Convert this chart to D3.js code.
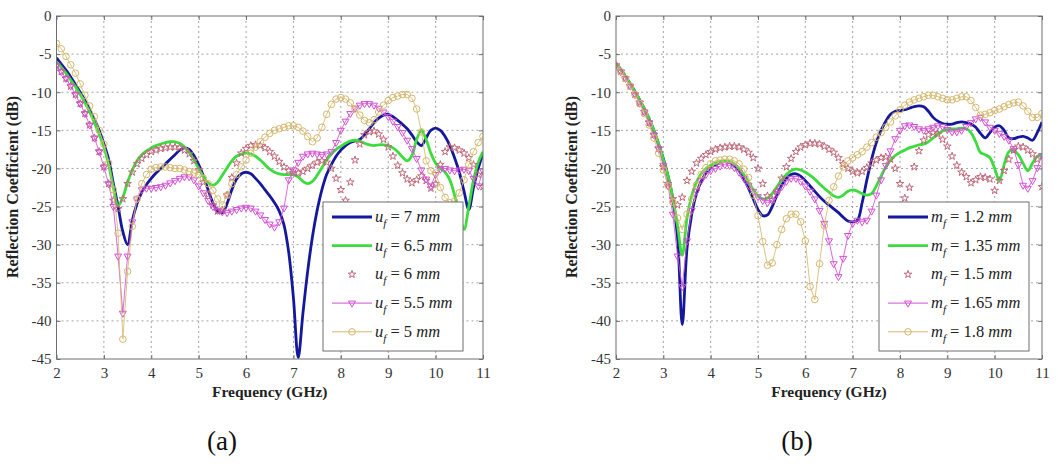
<!DOCTYPE html>
<html>
<head>
<meta charset="utf-8">
<script src="https://cdn.jsdelivr.net/npm/d3@7"></script>
<style>
  body { margin: 0; background: #fff; }
  svg { display: block; }
  svg text { font-family: "Liberation Serif", "DejaVu Serif", serif; }
</style>
</head>
<body>
<svg id="fig" width="1058" height="470"></svg>
<script>
// Frequency sweep: 2 GHz to 11 GHz, 0.1 GHz step (91 samples per trace)
const FREQ = d3.range(91).map(i => +(2 + i * 0.1).toFixed(1));

const X_TICKS = [2, 3, 4, 5, 6, 7, 8, 9, 10, 11];
const Y_TICKS = [0, -5, -10, -15, -20, -25, -30, -35, -40, -45];

// (a) feed width u_f sweep, reflection coefficient in dB
const UF_LABELS = ["7", "6.5", "6", "5.5", "5"];
const S_UF_7 = [
  -5.5,-6.3,-7.1,-8.0,-9.0,-10.0,-11.1,-12.3,-13.6,-15.0,
  -16.8,-18.8,-22.0,-25.0,-28.3,-30.0,-26.8,-24.6,-23.1,-22.1,
  -21.3,-20.6,-20.0,-19.4,-18.8,-18.2,-17.6,-17.3,-17.5,-18.3,
  -19.5,-21.0,-22.8,-24.5,-25.6,-25.8,-24.6,-22.8,-21.4,-20.7,
  -20.5,-20.7,-21.3,-22.0,-22.8,-23.6,-24.5,-25.6,-27.4,-31.0,
  -37.0,-44.8,-39.0,-33.5,-29.0,-25.5,-22.8,-20.8,-19.5,-18.4,
  -17.6,-17.0,-16.6,-16.4,-16.2,-15.6,-14.8,-14.0,-13.4,-13.0,
  -12.9,-13.2,-13.7,-14.2,-14.8,-15.6,-16.5,-17.0,-16.0,-15.0,
  -14.7,-15.0,-15.8,-17.0,-18.6,-20.5,-23.0,-25.4,-22.5,-20.0,
  -18.0];
const S_UF_65 = [
  -6.0,-6.7,-7.5,-8.4,-9.3,-10.3,-11.4,-12.6,-14.0,-15.5,
  -17.2,-19.5,-22.5,-24.9,-23.8,-21.8,-20.2,-19.0,-18.2,-17.7,
  -17.3,-17.0,-16.8,-16.6,-16.5,-16.5,-16.7,-17.2,-17.9,-18.9,
  -20.0,-21.1,-21.9,-22.2,-21.8,-20.9,-19.9,-19.0,-18.4,-18.1,
  -18.0,-18.1,-18.4,-18.9,-19.5,-20.1,-20.5,-20.7,-20.8,-20.8,
  -20.8,-21.1,-21.7,-22.0,-21.7,-20.9,-19.9,-18.9,-18.1,-17.5,
  -17.1,-16.7,-16.4,-16.3,-16.4,-16.7,-16.9,-17.0,-16.9,-16.9,
  -17.0,-17.3,-17.8,-18.5,-19.0,-18.3,-16.2,-15.0,-16.2,-18.0,
  -19.3,-20.0,-20.5,-21.5,-23.5,-26.0,-28.0,-25.0,-21.5,-19.2,
  -17.8];
const S_UF_6 = [
  -6.5,-7.3,-8.2,-9.2,-10.3,-11.5,-12.8,-14.3,-16.0,-17.8,
  -19.8,-22.0,-24.2,-25.3,-24.0,-22.0,-20.5,-19.4,-18.7,-18.2,
  -17.8,-17.6,-17.4,-17.3,-17.2,-17.2,-17.3,-17.6,-18.1,-19.0,
  -20.2,-21.8,-23.4,-24.8,-25.6,-25.5,-23.5,-21.2,-19.3,-18.0,
  -17.4,-17.0,-16.9,-17.0,-17.3,-17.8,-18.4,-19.1,-19.8,-20.3,
  -20.6,-20.6,-20.4,-20.0,-19.6,-19.2,-19.0,-19.2,-20.0,-21.3,
  -22.8,-24.2,-21.8,-18.9,-16.8,-15.6,-15.2,-15.1,-15.5,-16.2,
  -17.2,-18.4,-19.6,-20.6,-21.4,-21.9,-21.5,-21.0,-21.6,-22.6,
  -22.0,-19.5,-17.8,-17.2,-17.3,-17.6,-18.0,-18.6,-19.5,-20.8,
  -22.4];
const S_UF_55 = [
  -6.5,-7.3,-8.2,-9.2,-10.3,-11.5,-12.8,-14.3,-16.0,-17.8,
  -19.8,-22.0,-25.0,-31.5,-39.0,-31.5,-27.0,-24.0,-22.8,-22.6,
  -22.6,-22.5,-22.4,-22.2,-21.9,-21.6,-21.3,-21.1,-21.1,-21.5,
  -22.3,-23.2,-24.2,-25.0,-25.5,-25.7,-25.8,-25.6,-25.4,-25.2,
  -25.1,-25.2,-25.6,-26.1,-26.7,-27.3,-27.7,-27.0,-25.2,-21.5,
  -20.2,-19.2,-18.4,-18.1,-18.0,-18.1,-18.2,-18.1,-17.8,-16.6,
  -15.0,-13.8,-12.8,-12.1,-11.7,-11.5,-11.5,-11.7,-12.1,-12.6,
  -13.2,-13.8,-14.5,-15.3,-16.3,-17.4,-18.7,-20.2,-21.4,-22.3,
  -20.8,-20.1,-20.0,-20.2,-20.3,-20.2,-20.1,-20.3,-21.3,-22.3,
  -20.3];
const S_UF_5 = [
  -3.6,-4.3,-5.3,-6.4,-7.5,-8.9,-10.4,-11.8,-13.2,-15.0,
  -16.8,-19.3,-22.8,-28.5,-42.4,-33.5,-27.6,-24.0,-22.0,-20.8,
  -20.1,-19.9,-19.8,-19.8,-19.9,-20.0,-20.0,-20.2,-20.4,-20.6,
  -20.8,-21.3,-22.0,-22.9,-24.0,-24.8,-23.5,-22.0,-20.8,-19.8,
  -18.9,-18.0,-17.2,-16.5,-15.9,-15.4,-15.0,-14.8,-14.6,-14.4,
  -14.4,-14.6,-15.1,-15.8,-16.5,-16.0,-14.6,-12.9,-11.6,-10.9,
  -10.7,-10.9,-11.4,-12.2,-13.0,-13.7,-14.0,-13.6,-12.6,-11.7,
  -11.1,-10.7,-10.5,-10.3,-10.3,-10.8,-12.2,-15.2,-19.0,-20.3,
  -20.6,-22.5,-23.8,-24.5,-24.3,-23.2,-21.5,-19.5,-17.8,-16.6,
  -15.8];

// (b) m_f sweep, reflection coefficient in dB
const MF_LABELS = ["1.2", "1.35", "1.5", "1.65", "1.8"];
const S_MF_12 = [
  -6.2,-7.0,-7.9,-8.9,-9.9,-11.0,-12.2,-13.5,-15.0,-16.8,
  -18.7,-21.0,-24.0,-29.0,-40.5,-30.5,-26.0,-23.3,-21.7,-20.6,
  -19.9,-19.5,-19.2,-19.1,-19.2,-19.6,-20.3,-21.3,-22.6,-24.0,
  -25.4,-26.2,-26.1,-25.0,-23.5,-22.2,-21.3,-20.8,-20.7,-21.0,
  -21.6,-22.3,-23.0,-23.7,-24.3,-24.8,-25.3,-25.8,-26.4,-26.9,
  -27.0,-26.8,-24.5,-21.5,-18.8,-16.6,-15.0,-13.8,-12.9,-12.5,
  -12.4,-12.3,-12.1,-11.9,-11.8,-11.9,-12.5,-13.3,-13.8,-14.1,
  -14.2,-14.2,-14.0,-13.9,-14.0,-14.2,-14.6,-15.4,-16.0,-15.3,
  -14.6,-14.4,-15.0,-16.0,-16.1,-15.9,-15.8,-16.0,-16.3,-15.3,
  -13.9];
const S_MF_135 = [
  -6.2,-7.0,-7.9,-8.9,-9.9,-11.0,-12.2,-13.5,-15.0,-16.8,
  -18.8,-21.0,-23.8,-27.5,-31.4,-26.5,-23.6,-21.8,-20.7,-20.0,
  -19.6,-19.3,-19.1,-19.0,-19.1,-19.4,-20.0,-20.8,-21.8,-22.8,
  -23.6,-24.0,-23.9,-23.3,-22.4,-21.5,-20.8,-20.3,-20.1,-20.2,
  -20.5,-20.9,-21.4,-22.0,-22.6,-23.1,-23.6,-23.8,-23.5,-23.0,
  -22.8,-23.0,-23.3,-23.5,-23.3,-22.3,-21.0,-19.8,-18.9,-18.3,
  -17.9,-17.6,-17.3,-17.1,-16.9,-16.8,-16.5,-16.0,-15.5,-15.1,
  -14.9,-14.8,-14.8,-14.7,-14.8,-15.3,-16.5,-17.9,-18.2,-18.6,
  -20.0,-21.6,-19.5,-17.8,-17.6,-18.2,-19.3,-20.3,-19.3,-18.4,
  -18.2];
const S_MF_15 = [
  -6.5,-7.3,-8.2,-9.2,-10.3,-11.4,-12.6,-14.0,-15.6,-17.4,
  -19.8,-22.0,-24.0,-24.8,-23.8,-21.6,-20.4,-19.3,-18.7,-18.2,
  -17.8,-17.5,-17.3,-17.2,-17.1,-17.1,-17.2,-17.5,-17.9,-18.6,
  -20.0,-22.0,-23.6,-24.1,-23.0,-21.3,-19.8,-18.7,-17.8,-17.2,
  -16.9,-16.7,-16.7,-16.8,-17.1,-17.5,-17.9,-18.6,-19.4,-20.0,
  -20.4,-20.6,-20.4,-19.9,-19.3,-18.9,-18.6,-18.5,-18.8,-20.0,
  -22.0,-23.9,-22.5,-19.8,-17.7,-16.3,-15.6,-15.3,-15.5,-16.2,
  -17.1,-18.4,-19.6,-20.5,-21.1,-21.9,-21.5,-21.1,-21.2,-21.4,
  -22.9,-21.6,-20.3,-18.8,-17.6,-17.1,-17.2,-17.6,-18.1,-18.8,
  -22.4];
const S_MF_165 = [
  -6.5,-7.3,-8.2,-9.2,-10.3,-11.4,-12.6,-14.0,-15.6,-17.4,
  -19.6,-22.3,-26.0,-31.5,-35.5,-29.5,-25.5,-23.0,-21.6,-20.8,
  -20.3,-20.0,-19.7,-19.5,-19.6,-19.9,-20.5,-21.3,-22.2,-23.0,
  -23.7,-24.2,-24.5,-24.2,-23.3,-22.4,-21.7,-21.3,-21.3,-21.7,
  -22.3,-23.0,-24.0,-25.5,-27.2,-29.5,-32.5,-34.2,-31.8,-28.8,
  -27.2,-26.8,-27.0,-26.8,-25.6,-23.5,-21.5,-19.6,-17.7,-16.1,
  -15.0,-14.4,-14.3,-14.5,-14.8,-15.0,-14.8,-14.6,-14.4,-14.5,
  -14.9,-15.2,-15.2,-15.0,-14.5,-14.0,-13.5,-13.3,-13.9,-14.6,
  -15.0,-15.4,-15.8,-16.3,-17.4,-19.5,-22.2,-22.6,-21.6,-19.9,
  -18.3];
const S_MF_18 = [
  -6.5,-7.3,-8.2,-9.2,-10.3,-11.5,-12.8,-14.3,-16.0,-18.0,
  -20.2,-22.3,-24.4,-26.5,-28.0,-26.0,-24.0,-22.2,-20.8,-19.9,
  -19.4,-19.0,-18.9,-18.8,-18.8,-19.0,-19.4,-20.1,-21.2,-23.5,
  -26.2,-29.6,-32.7,-32.4,-30.0,-28.0,-26.6,-26.0,-26.0,-27.0,
  -29.5,-35.5,-37.2,-32.5,-27.5,-24.2,-22.4,-21.0,-19.8,-19.0,
  -18.6,-18.2,-17.8,-17.2,-16.6,-15.9,-15.3,-14.6,-13.9,-13.1,
  -12.3,-11.7,-11.3,-11.0,-10.8,-10.6,-10.4,-10.4,-10.6,-10.8,
  -11.0,-11.0,-10.8,-10.6,-10.6,-11.1,-12.0,-13.0,-12.9,-12.7,
  -12.4,-12.2,-11.9,-11.6,-11.4,-11.3,-11.8,-12.5,-13.3,-13.3,
  -12.8];

// Trace styles shared by both panels (MATLAB-like)
const STYLES = [
  { kind: "line",   color: "#15189b", width: 2.8 },
  { kind: "line",   color: "#3ddc3d", width: 2.8 },
  { kind: "star",   color: "#c0687a" },
  { kind: "tri",    color: "#d250d2" },
  { kind: "circle", color: "#d6b86e" }
];

const SERIF = '"Liberation Serif", "DejaVu Serif", serif';
const svg = d3.select("#fig");

function drawMarker(sel, kind, color) {
  if (kind === "circle") {
    sel.append("circle").attr("r", 3.3)
      .attr("fill", "none").attr("stroke", color).attr("stroke-width", 1);
  } else if (kind === "tri") {
    sel.append("path").attr("d", d3.symbol(d3.symbolTriangle, 21)()).attr("transform", "rotate(180)")
      .attr("fill", "none").attr("stroke", color).attr("stroke-width", 1);
  } else if (kind === "star") {
    sel.append("path").attr("d", d3.symbol(d3.symbolStar, 18)())
      .attr("fill", "none").attr("stroke", color).attr("stroke-width", 1);
  }
}

function panel(opt) {
  const top = 16, bottom = 359;
  const x = d3.scaleLinear().domain([2, 11]).range([opt.left, opt.right]);
  const y = d3.scaleLinear().domain([-45, 0]).range([bottom, top]);
  const g = svg.append("g");

  // plot background
  g.append("rect").attr("x", opt.left).attr("y", top)
    .attr("width", opt.right - opt.left).attr("height", bottom - top)
    .attr("fill", "#fff");

  // dotted grid
  g.append("g").selectAll("line").data(X_TICKS.slice(1, -1)).join("line")
    .attr("x1", d => x(d)).attr("x2", d => x(d)).attr("y1", top).attr("y2", bottom)
    .attr("stroke", "#9a9a9a").attr("stroke-width", 0.9).attr("stroke-dasharray", "2,3");
  g.append("g").selectAll("line").data(Y_TICKS.slice(1, -1)).join("line")
    .attr("y1", d => y(d)).attr("y2", d => y(d)).attr("x1", opt.left).attr("x2", opt.right)
    .attr("stroke", "#9a9a9a").attr("stroke-width", 0.9).attr("stroke-dasharray", "2,3");

  // axes with inward ticks on all four sides
  const axisStyle = a => {
    a.select(".domain").remove();
    a.selectAll(".tick line").attr("stroke", "#6f6f6f");
    a.selectAll("text").attr("font-family", null).style("font-family", SERIF)
      .attr("font-size", 15).attr("fill", "#333");
  };
  g.append("g").attr("transform", `translate(0,${bottom})`)
    .call(d3.axisBottom(x).tickValues(X_TICKS).tickSize(-4).tickPadding(8).tickFormat(d => String(d)))
    .call(axisStyle);
  g.append("g").attr("transform", `translate(0,${top})`)
    .call(d3.axisTop(x).tickValues(X_TICKS).tickSize(-4).tickFormat(""))
    .call(axisStyle);
  g.append("g").attr("transform", `translate(${opt.left},0)`)
    .call(d3.axisLeft(y).tickValues(Y_TICKS).tickSize(-4).tickPadding(5).tickFormat(d => String(d)))
    .call(axisStyle);
  g.append("g").attr("transform", `translate(${opt.right},0)`)
    .call(d3.axisRight(y).tickValues(Y_TICKS).tickSize(-4).tickFormat(""))
    .call(axisStyle);

  // traces
  const clipId = "clip-" + opt.id;
  svg.append("defs").append("clipPath").attr("id", clipId)
    .append("rect").attr("x", opt.left).attr("y", top)
    .attr("width", opt.right - opt.left).attr("height", bottom - top);
  const plot = g.append("g").attr("clip-path", `url(#${clipId})`);

  opt.series.forEach((vals, i) => {
    const st = STYLES[i];
    const pts = vals.map((v, k) => [FREQ[k], v]);
    if (st.kind === "line") {
      plot.append("path").datum(pts)
        .attr("d", d3.line().x(d => x(d[0])).y(d => y(d[1])).curve(d3.curveCatmullRom.alpha(0.5)))
        .attr("fill", "none").attr("stroke", st.color).attr("stroke-width", st.width)
        .attr("stroke-linejoin", "round");
    } else {
      if (st.kind !== "star") {
        plot.append("path").datum(pts)
          .attr("d", d3.line().x(d => x(d[0])).y(d => y(d[1])))
          .attr("fill", "none").attr("stroke", st.color).attr("stroke-width", 1)
          .attr("stroke-opacity", 0.85);
      }
      plot.append("g").selectAll("g").data(pts).join("g")
        .attr("transform", d => `translate(${x(d[0])},${y(d[1])})`)
        .each(function () { drawMarker(d3.select(this), st.kind, st.color); });
    }
  });

  // frame
  g.append("rect").attr("x", opt.left).attr("y", top)
    .attr("width", opt.right - opt.left).attr("height", bottom - top)
    .attr("fill", "none").attr("stroke", "#6f6f6f").attr("stroke-width", 1);

  // axis titles
  g.append("text").attr("x", (opt.left + opt.right) / 2).attr("y", 397)
    .attr("text-anchor", "middle").style("font-family", SERIF).attr("font-weight", "bold")
    .attr("font-size", 15.5).attr("fill", "#222").text("Frequency (GHz)");
  g.append("text")
    .attr("transform", `translate(${opt.left - 39},187) rotate(-90)`)
    .attr("text-anchor", "middle").style("font-family", SERIF).attr("font-weight", "bold")
    .attr("font-size", 16).attr("fill", "#222").text("Reflection Coefficient (dB)");

  // legend
  const lg = g.append("g");
  lg.append("rect").attr("x", opt.legend.x).attr("y", 202)
    .attr("width", opt.legend.w).attr("height", 149)
    .attr("fill", "#fff").attr("stroke", "#6f6f6f").attr("stroke-width", 1);
  opt.labels.forEach((lab, i) => {
    const st = STYLES[i];
    const cy = 217 + i * 28.7;
    const x0 = opt.legend.x + 9, x1 = x0 + 40;
    const row = lg.append("g");
    if (st.kind === "line") {
      row.append("line").attr("x1", x0).attr("x2", x1).attr("y1", cy).attr("y2", cy)
        .attr("stroke", st.color).attr("stroke-width", st.width);
    } else {
      if (st.kind !== "star") {
        row.append("line").attr("x1", x0).attr("x2", x1).attr("y1", cy).attr("y2", cy)
          .attr("stroke", st.color).attr("stroke-width", 1);
      }
      drawMarker(row.append("g").attr("transform", `translate(${(x0 + x1) / 2},${cy})`), st.kind, st.color);
    }
    const t = row.append("text").attr("x", x1 + 3).attr("y", cy + 5)
      .style("font-family", SERIF).attr("font-size", 16.5).attr("fill", "#222");
    t.append("tspan").attr("font-style", "italic").text(opt.sym);
    t.append("tspan").attr("font-style", "italic").attr("font-size", 11).attr("dy", 5).text("f");
    t.append("tspan").attr("dy", -5).text(" = " + lab + " ");
    t.append("tspan").attr("font-style", "italic").text("mm");
  });

  // caption
  svg.append("text").attr("x", opt.caption.x).attr("y", 450)
    .attr("text-anchor", "middle").style("font-family", SERIF)
    .attr("font-size", 27).attr("fill", "#111").text(opt.caption.text);
}

panel({
  id: "a", left: 56.5, right: 483,
  series: [S_UF_7, S_UF_65, S_UF_6, S_UF_55, S_UF_5],
  labels: UF_LABELS, sym: "u",
  legend: { x: 323, w: 140 },
  caption: { x: 222, text: "(a)" }
});
panel({
  id: "b", left: 616, right: 1042,
  series: [S_MF_12, S_MF_135, S_MF_15, S_MF_165, S_MF_18],
  labels: MF_LABELS, sym: "m",
  legend: { x: 879, w: 150 },
  caption: { x: 797, text: "(b)" }
});
</script>
</body>
</html>
